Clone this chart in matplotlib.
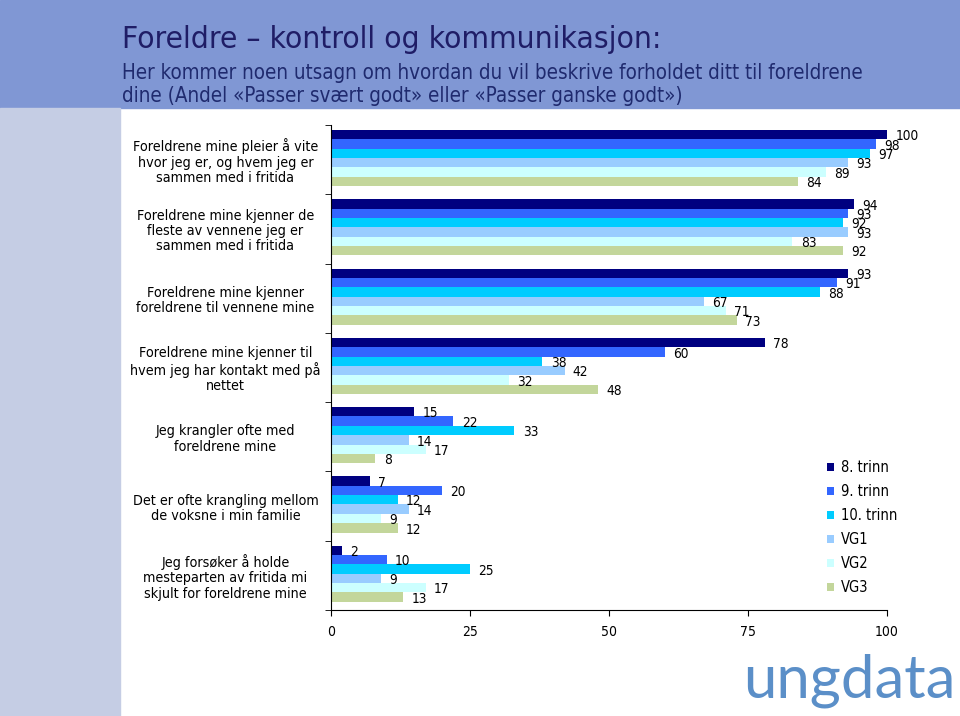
import matplotlib
matplotlib.use("Agg")
import matplotlib.pyplot as plt
from matplotlib import font_manager as fm
from matplotlib.patches import Rectangle

# Kategorier (utsagn)
kategorier = [
    "Foreldrene mine pleier å vite\nhvor jeg er, og hvem jeg er\nsammen med i fritida",
    "Foreldrene mine kjenner de\nfleste av vennene jeg er\nsammen med i fritida",
    "Foreldrene mine kjenner\nforeldrene til vennene mine",
    "Foreldrene mine kjenner til\nhvem jeg har kontakt med på\nnettet",
    "Jeg krangler ofte med\nforeldrene mine",
    "Det er ofte krangling mellom\nde voksne i min familie",
    "Jeg forsøker å holde\nmesteparten av fritida mi\nskjult for foreldrene mine",
]

# Serier (andel i prosent)
trinn = ["8. trinn", "9. trinn", "10. trinn", "VG1", "VG2", "VG3"]
trinn8 = [100, 94, 93, 78, 15, 7, 2]
trinn9 = [98, 93, 91, 60, 22, 20, 10]
trinn10 = [97, 92, 88, 38, 33, 12, 25]
vg1 = [93, 93, 67, 42, 14, 14, 9]
vg2 = [89, 83, 71, 32, 17, 9, 17]
vg3 = [84, 92, 73, 48, 8, 12, 13]
xticks = [0, 25, 50, 75, 100]

serier = [trinn8, trinn9, trinn10, vg1, vg2, vg3]
farger = ["#000080", "#3366ff", "#00ccff", "#99ccff", "#ccffff", "#c3d69b"]

# Skrifttyper: smal for tittelen, kondensert for resten hvis den finnes
navn = {f.name for f in fm.fontManager.ttflist}
smal = "Liberation Sans Narrow" if "Liberation Sans Narrow" in navn else "DejaVu Sans"
if "DejaVu Sans Condensed" in navn:
    plt.rcParams["font.family"] = ["DejaVu Sans Condensed", "DejaVu Sans"]
else:
    plt.rcParams["font.family"] = ["DejaVu Sans"]
    plt.rcParams["font.stretch"] = "condensed"

W, H = 960, 716
fig = plt.figure(figsize=(W / 100, H / 100), dpi=100)

# Bakgrunn: blått topp-felt og lys stripe til venstre
fig.add_artist(Rectangle((0, 1 - 108 / H), 1, 108 / H, transform=fig.transFigure,
                         color="#8097d4", zorder=0))
fig.add_artist(Rectangle((0, 0), 120 / W, 1 - 108 / H, transform=fig.transFigure,
                         color="#c5cde4", zorder=0))

renderer = fig.canvas.get_renderer()


def tilpass(t, bredde):
    # justerer skriftstørrelsen slik at teksten blir bredde piksler bred
    w = t.get_window_extent(renderer).width
    t.set_fontsize(t.get_fontsize() * bredde / w)


tittel = fig.text(122 / W, 1 - 39 / H, "Foreldre \u2013 kontroll og kommunikasjon:",
                  family=smal, fontsize=24, color="#1f1d66", va="center")
tilpass(tittel, 540)
under1 = fig.text(122 / W, 1 - 73 / H,
                  "Her kommer noen utsagn om hvordan du vil beskrive forholdet ditt til foreldrene",
                  family=smal, fontsize=14, color="#1f2a6e", va="center")
tilpass(under1, 750)
under2 = fig.text(122 / W, 1 - 96 / H,
                  "dine (Andel \u00abPasser svært godt\u00bb eller \u00abPasser ganske godt\u00bb)",
                  family=smal, fontsize=14, color="#1f2a6e", va="center")
under2.set_fontsize(under1.get_fontsize())

# Selve diagrammet
ax = fig.add_axes([331 / W, 1 - 610 / H, (887 - 331) / W, (610 - 125) / H])
h = 0.135
for j, (verdier, farge) in enumerate(zip(serier, farger)):
    y = [i - 0.428 + h * (j + 0.5) for i in range(len(kategorier))]
    ax.barh(y, verdier, height=h, color=farge, edgecolor="none", label=trinn[j])
    for yy, v in zip(y, verdier):
        ax.annotate(str(v), (v, yy), xytext=(6, -1.2), textcoords="offset points",
                    va="center", ha="left", fontsize=9.8)

ax.set_xlim(0, 100)
ax.set_ylim(len(kategorier) - 0.5, -0.5)
ax.set_xticks(xticks)
ax.set_yticks(range(len(kategorier)))
ax.set_yticklabels(kategorier, ha="center", multialignment="center",
                   fontsize=10.3, linespacing=1.12)
ax.set_yticks([i - 0.5 for i in range(len(kategorier) + 1)], minor=True)
ax.tick_params(axis="y", which="major", length=0, pad=76)
ax.tick_params(axis="y", which="minor", length=4, direction="out")
ax.tick_params(axis="x", length=4, direction="out", pad=7, labelsize=10)
for s in ["top", "right"]:
    ax.spines[s].set_visible(False)

# Forklaring
fig.legend(loc="upper left", bbox_to_anchor=(827 / W, 1 - 460 / H), frameon=False,
           fontsize=10.5, handlelength=0.5, handleheight=0.5, handletextpad=0.45,
           labelspacing=0.62, borderpad=0, borderaxespad=0)

# Logo
logo = fig.text(743 / W, 1 - 697 / H, "ungdata", family="Lato",
                fontsize=40, color="#5b8fc8", va="baseline")
tilpass(logo, 212)

fig.savefig("out.png", dpi=100)
